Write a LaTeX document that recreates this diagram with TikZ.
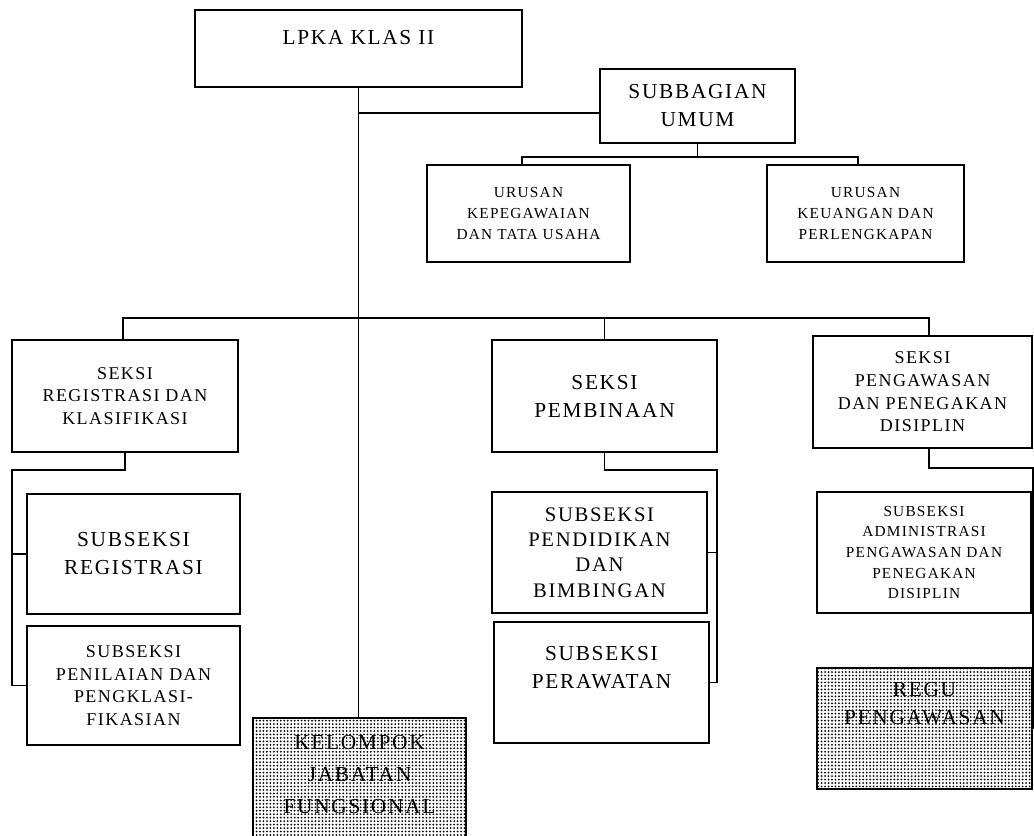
\documentclass[tikz,border=0pt]{standalone}
\usepackage{fontspec}
\setmainfont{Liberation Serif}[LetterSpace=8]
\usepackage{tikz}
\usetikzlibrary{positioning, calc, patterns.meta}
\newcommand{\pxu}{0.75pt}

\begin{document}
\begin{tikzpicture}[x=\pxu, y=-\pxu, line width=1.1pt,
    unit/.style 2 args={draw, minimum width=#1*\pxu, minimum height=#2*\pxu, inner sep=0pt, align=center},
    txt/.style={inner sep=0pt, align=center},
    fbig/.style={font=\fontsize{16}{21}\selectfont},
    fdik/.style={font=\fontsize{15.5}{19}\selectfont},
    fmid/.style={font=\fontsize{13.5}{17}\selectfont},
    fsmall/.style={font=\fontsize{11.5}{15.4}\selectfont},
    fkjf/.style={font=\fontsize{16}{24}\selectfont},
    dotbox/.style={pattern={Dots[distance=2.6pt, radius=0.75pt]}}]
\path[use as bounding box, clip] (0,0) rectangle (1034,835);

% top level
\node[unit={327}{77}] (lpka) at (358.5,48.5) {};
\node[txt, fbig] (lpka-t) at (358.5,38) {LPKA KLAS II};
\node[unit={195}{74}, fbig] (subbag) at (697.5,106) {SUBBAGIAN\\UMUM};
\node[unit={203}{97}, fsmall] (urpeg) at (528.5,213.5) {URUSAN\\KEPEGAWAIAN\\DAN TATA USAHA};
\node[unit={197}{97}, fsmall] (urkeu) at (865.5,213.5) {URUSAN\\KEUANGAN DAN\\PERLENGKAPAN};

% seksi
\node[unit={226}{112}, fmid] (sreg) at (125,396) {SEKSI\\REGISTRASI DAN\\KLASIFIKASI};
\node[unit={225}{112}, fbig] (sbin) at (604.5,396) {SEKSI\\PEMBINAAN};
\node[unit={219}{112}, fmid] (swas) at (922.5,392) {SEKSI\\PENGAWASAN\\DAN PENEGAKAN\\DISIPLIN};

% subseksi
\node[unit={213}{120}, fbig] (ssreg) at (133.5,554) {SUBSEKSI\\REGISTRASI};
\node[unit={213}{119}, fmid] (ssnil) at (133.5,685.5) {SUBSEKSI\\PENILAIAN DAN\\PENGKLASI-\\FIKASIAN};
\node[unit={215}{121}, fdik] (ssdik) at (599.5,552.5) {SUBSEKSI\\PENDIDIKAN\\DAN\\BIMBINGAN};
\node[unit={215}{121}] (ssraw) at (601.5,682.5) {};
\node[txt, fbig] (ssraw-t) at (601.5,668) {SUBSEKSI\\PERAWATAN};
\node[unit={214}{121}, fsmall] (sswas) at (924,552.5) {SUBSEKSI\\ADMINISTRASI\\PENGAWASAN DAN\\PENEGAKAN\\DISIPLIN};

% dotted boxes
\node[unit={215}{121}, dotbox] (regu) at (924.5,728.5) {};
\node[txt, fbig] (regu-t) at (924.5,704) {REGU\\PENGAWASAN};
\node[unit={213}{150}, dotbox] (kjf) at (359.5,793) {};
\node[txt, fkjf] (kjf-t) at (359.5,775) {KELOMPOK\\JABATAN\\FUNGSIONAL};

% lines
\coordinate (jsub) at (358.5,113);
\coordinate (jur1) at (522,157);
\coordinate (jur2) at (858,157);
\coordinate (jreg) at (123,318);
\coordinate (jwas) at (929,318);
\coordinate (lreg) at (12,470);
\coordinate (lbin) at (717,470);
\coordinate (lwas) at (1033,468);

\draw (lpka.south) -- (lpka.south |- kjf.north);
\draw (jsub) -- (jsub -| subbag.west);
\draw (subbag.south) -- (subbag.south |- jur1);
\draw (jur1 |- urpeg.north) -- (jur1) -- (jur2) -- (jur2 |- urkeu.north);

\draw (jreg |- sreg.north) -- (jreg) -- (jwas) -- (jwas |- swas.north);
\draw (sbin.north) -- (sbin.north |- jreg);

\draw (sreg.south) -- (sreg.south |- lreg) -- (lreg) -- (lreg |- ssnil.west) -- (ssnil.west);
\draw (lreg |- ssreg.west) -- (ssreg.west);

\draw (sbin.south) -- (sbin.south |- lbin) -- (lbin) -- (lbin |- ssraw.east) -- (ssraw.east);
\draw (lbin |- ssdik.east) -- (ssdik.east);

\draw (jwas |- swas.south) -- (jwas |- lwas) -- (lwas) -- (lwas |- regu.east) -- (regu.east);
\draw (lwas |- sswas.east) -- (sswas.east);
\end{tikzpicture}
\end{document}
